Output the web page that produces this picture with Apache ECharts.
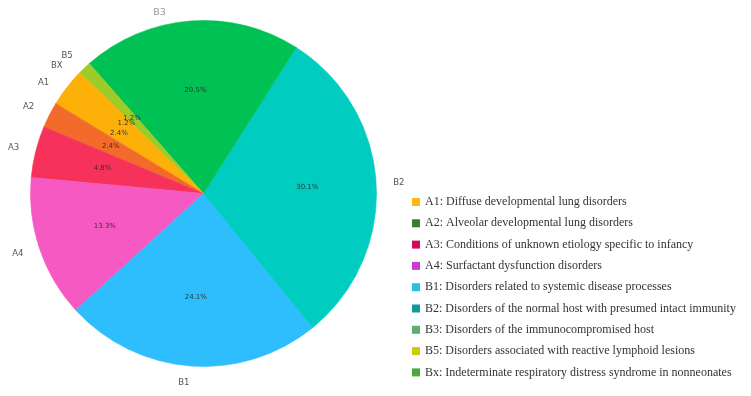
<!DOCTYPE html>
<html>
<head>
<meta charset="utf-8">
<script src="https://cdn.jsdelivr.net/npm/echarts@6/dist/echarts.min.js"></script>
<style>
  html, body { margin: 0; padding: 0; background: #fff; }
  #pieChart { width: 751px; height: 396px; }
</style>
</head>
<body>
<div id="pieChart"></div>
<script>
// slice order follows the data, counter-clockwise from the upper left
const categories = ['A1', 'A2', 'A3', 'A4', 'B1', 'B2', 'B3', 'B5', 'BX'];
const counts = [2, 2, 4, 11, 20, 25, 17, 1, 1];
const legendLabels = [
  'A1: Diffuse developmental lung disorders',
  'A2: Alveolar developmental lung disorders',
  'A3: Conditions of unknown etiology specific to infancy',
  'A4: Surfactant dysfunction disorders',
  'B1: Disorders related to systemic disease processes',
  'B2: Disorders of the normal host with presumed intact immunity',
  'B3: Disorders of the immunocompromised host',
  'B5: Disorders associated with reactive lymphoid lesions',
  'Bx: Indeterminate respiratory distress syndrome in nonneonates'
];

const sliceColors = ['#fcb008', '#f26b2a', '#f6325a', '#f759c3', '#2ebdfd', '#00ccc0', '#00c153', '#9dcc28', '#fcb008'];
const legendColors = ['#fdb912', '#3b7d2b', '#d1065d', '#c83dce', '#29c2e2', '#16979a', '#5aae72', '#cccc00', '#4caa3a'];

var pieChart = echarts.init(document.getElementById('pieChart'));

const R = 173;
const center = [203.5, 193.5];

const sliceData = categories.map((c, i) => {
  // border in the slice's own colour hides the antialiasing seams
  const item = {
    name: c,
    value: counts[i],
    itemStyle: { color: sliceColors[i], borderColor: sliceColors[i], borderWidth: 0.6 }
  };
  if (c === 'B3') item.label = { color: '#999', fontSize: 9.5 };
  return item;
});

const pieOption = {
  backgroundColor: '#fff',
  animation: false,
  legend: {
    orient: 'vertical',
    left: 412,
    top: 196,
    padding: 0,
    icon: 'rect',
    itemWidth: 8,
    itemHeight: 8,
    itemGap: 9.3,
    selectedMode: false,
    data: categories.map((c, i) => ({ name: c, itemStyle: { color: legendColors[i], borderWidth: 0 } })),
    formatter: function (name) {
      return legendLabels[categories.indexOf(name)];
    },
    textStyle: { fontFamily: 'Liberation Serif', fontSize: 12, color: '#333' }
  },
  series: [
    {
      // slices + outer labels
      type: 'pie',
      center: center,
      radius: R,
      startAngle: 140,
      clockwise: false,
      avoidLabelOverlap: false,
      silent: true,
      data: sliceData,
      label: {
        position: 'outside',
        fontFamily: 'DejaVu Sans',
        fontSize: 8.5,
        color: '#555',
        distanceToLabelLine: 0
      },
      labelLine: { show: false, length: 17, length2: 0 },
      labelLayout: function (p) {
        // B3 label sits a little left of its slice in the original
        return p.dataIndex === 6 ? { dx: -23, dy: 8, hideOverlap: false } : { hideOverlap: false };
      }
    },
    {
      // percentage labels at 0.6 R
      type: 'pie',
      center: center,
      radius: [29, R],
      startAngle: 140,
      clockwise: false,
      avoidLabelOverlap: false,
      silent: true,
      percentPrecision: 1,
      data: categories.map((c, i) => ({ name: c, value: counts[i] })),
      itemStyle: { color: 'rgba(0,0,0,0)', borderWidth: 0 },
      label: {
        position: 'inside',
        formatter: '{d}%',
        fontFamily: 'DejaVu Sans',
        fontSize: 7,
        color: '#333',
        overflow: 'none'
      },
      labelLine: { show: false },
      labelLayout: { hideOverlap: false }
    }
  ]
};

pieChart.setOption(pieOption);
</script>
</body>
</html>
